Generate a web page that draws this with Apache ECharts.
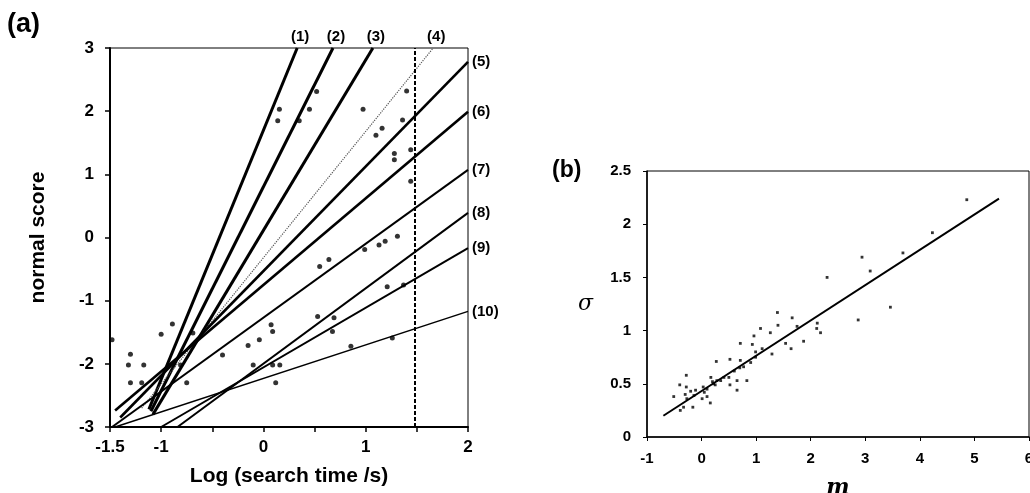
<!DOCTYPE html>
<html>
<head>
<meta charset="utf-8">
<script src="https://cdn.jsdelivr.net/npm/echarts@6/dist/echarts.min.js"></script>
<style>
html,body{margin:0;padding:0;background:#fff;}
#c{width:1030px;height:493px;}
</style>
</head>
<body>
<div id="c"></div>
<script>
// ---------- Panel (a) data ----------
const aXTickLabels = [-1.5, -1, 0, 1, 2];
const aYTickLabels = [-3, -2, -1, 0, 1, 2, 3];
const lineNames = ['(1)', '(2)', '(3)', '(4)', '(5)', '(6)', '(7)', '(8)', '(9)', '(10)'];
const lineStart = [[-1.12, -2.72], [-1.10, -2.75], [-1.08, -2.80], [-1.19, -2.70], [-1.40, -2.85],
                   [-1.45, -2.74], [-1.48, -3.00], [-0.84, -3.00], [-1.00, -3.00], [-1.45, -3.00]];
const lineEnd = [[0.33, 3.00], [0.68, 3.00], [1.07, 3.00], [1.66, 3.00], [2.00, 2.78],
                 [2.00, 1.99], [2.00, 1.07], [2.00, 0.39], [2.00, -0.17], [2.00, -1.17]];
const cutoffX = 1.48;
const aPoints = [
  [-1.48, -1.62], [-1.30, -1.85], [-1.32, -2.02], [-1.17, -2.02], [-1.30, -2.30], [-1.19, -2.30],
  [-1.00, -1.53], [-0.89, -1.37], [-0.75, -2.30], [-0.81, -2.02], [-0.69, -1.51], [-0.40, -1.86],
  [-0.15, -1.71], [-0.04, -1.62], [-0.10, -2.02], [0.09, -2.02], [0.16, -2.02], [0.12, -2.30],
  [0.075, -1.38], [0.09, -1.49], [0.156, 2.03], [0.14, 1.85], [0.52, 2.31], [0.45, 2.03],
  [0.35, 1.85], [0.974, 2.03], [1.40, 2.32], [1.36, 1.86], [1.28, 1.33], [1.28, 1.23],
  [1.10, 1.62], [1.16, 1.73], [1.44, 1.39], [1.44, 0.89], [1.31, 0.02], [1.19, -0.06],
  [1.13, -0.12], [0.99, -0.19], [0.64, -0.35], [0.55, -0.46], [1.37, -0.75], [1.21, -0.78],
  [0.675, -1.49], [0.69, -1.27], [0.53, -1.25], [0.855, -1.72], [1.26, -1.59]
];

// ---------- Panel (b) data ----------
const bXTickLabels = [-1, 0, 1, 2, 3, 4, 5, 6];
const bYTickLabels = [0, 0.5, 1, 1.5, 2, 2.5];
const bPoints = [
  [4.86, 2.23], [4.23, 1.92], [3.69, 1.73], [2.94, 1.69], [3.09, 1.56], [2.30, 1.50],
  [3.46, 1.22], [2.87, 1.10], [1.39, 1.17], [1.40, 1.05], [1.66, 1.12], [1.75, 1.04],
  [2.12, 1.07], [2.11, 1.02], [2.18, 0.98], [1.87, 0.90], [1.54, 0.88], [1.64, 0.83],
  [1.29, 0.78], [1.08, 1.02], [0.96, 0.95], [1.26, 0.98], [0.93, 0.87], [0.71, 0.88],
  [0.99, 0.80], [1.11, 0.83], [0.27, 0.71], [0.52, 0.73], [0.71, 0.72], [0.83, 0.53],
  [0.65, 0.53], [0.65, 0.44], [0.52, 0.49], [-0.28, 0.58], [-0.40, 0.49], [-0.51, 0.38],
  [-0.28, 0.47], [-0.39, 0.25], [-0.33, 0.28], [-0.16, 0.28], [-0.11, 0.44], [0.01, 0.36],
  [0.10, 0.38], [0.16, 0.32], [0.17, 0.56], [0.03, 0.47], [0.28, 0.53], [0.41, 0.56],
  [-0.27, 0.36], [-0.14, 0.39], [0.10, 0.45], [0.22, 0.50], [0.35, 0.53], [0.50, 0.56],
  [0.77, 0.66], [0.90, 0.70], [0.99, 0.75], [0.20, 0.52], [0.25, 0.49], [0.05, 0.42],
  [-0.30, 0.40], [-0.20, 0.43], [0.60, 0.62], [0.70, 0.65]
];
const bFitStart = [-0.70, 0.20];
const bFitEnd = [5.45, 2.24];

// ---------- chart ----------
const FONT = 'Liberation Sans, Arial, sans-serif';
const SERIF = 'DejaVu Serif, Liberation Serif, serif';
const chart = echarts.init(document.getElementById('c'), null, {renderer: 'canvas'});

const lineWidths = [3, 3, 3, 1.2, 2.6, 2.6, 2, 2, 2, 1.5];
const lineSeries = lineNames.map((nm, i) => {
  const top = i < 4;
  return {
    type: 'line', xAxisIndex: 0, yAxisIndex: 0, name: nm,
    data: [lineStart[i], lineEnd[i]],
    showSymbol: false, symbol: 'none', silent: true,
    lineStyle: {color: i === 3 ? '#555' : '#000', width: lineWidths[i], type: i === 3 ? 'dotted' : 'solid'},
    endLabel: {
      show: true, formatter: nm, color: '#000', fontFamily: FONT, fontWeight: 'bold', fontSize: 15,
      align: top ? 'center' : 'left', verticalAlign: top ? 'bottom' : 'middle',
      offset: top ? [3, -4] : [0, 0], distance: top ? 0 : 4
    },
    z: 3
  };
});

const option = {
  animation: false,
  backgroundColor: '#fff',
  grid: [
    {left: 110, top: 48, width: 358, height: 379, show: true, borderColor: '#000', borderWidth: 1,
     outerBoundsMode: 'none', containLabel: false},
    {left: 647, top: 171, width: 382, height: 266, show: true, borderColor: '#000', borderWidth: 1,
     outerBoundsMode: 'none', containLabel: false}
  ],
  xAxis: [
    {
      gridIndex: 0, type: 'value', min: -1.5, max: 2, interval: 0.5,
      name: 'Log (search time /s)', nameLocation: 'middle', nameGap: 39,
      nameTextStyle: {color: '#000', fontFamily: FONT, fontWeight: 'bold', fontSize: 21},
      axisLine: {onZero: false, lineStyle: {color: '#000', width: 2}},
      axisTick: {show: true, inside: false, length: 5, lineStyle: {color: '#000', width: 1.5}},
      splitLine: {show: false},
      axisLabel: {
        color: '#000', fontFamily: FONT, fontWeight: 'bold', fontSize: 17, margin: 12,
        formatter: v => aXTickLabels.some(t => Math.abs(t - v) < 1e-9) ? String(v) : ''
      }
    },
    {
      gridIndex: 1, type: 'value', min: -1, max: 6, interval: 1,
      name: 'm', nameLocation: 'middle', nameGap: 40,
      nameTextStyle: {color: '#000', fontFamily: SERIF, fontStyle: 'italic', fontWeight: 'bold', fontSize: 22},
      axisLine: {onZero: false, lineStyle: {color: '#000', width: 1.5}},
      axisTick: {show: true, inside: false, length: 4, lineStyle: {color: '#000', width: 1}},
      splitLine: {show: false},
      axisLabel: {
        color: '#000', fontFamily: FONT, fontWeight: 'bold', fontSize: 15, margin: 14,
        formatter: v => bXTickLabels.some(t => Math.abs(t - v) < 1e-9) ? String(v) : ''
      }
    }
  ],
  yAxis: [
    {
      gridIndex: 0, type: 'value', min: -3, max: 3, interval: 1,
      name: 'normal score', nameLocation: 'middle', nameGap: 61, nameRotate: 90,
      nameTextStyle: {color: '#000', fontFamily: FONT, fontWeight: 'bold', fontSize: 21},
      axisLine: {onZero: false, lineStyle: {color: '#000', width: 2}},
      axisTick: {show: true, inside: false, length: 5, lineStyle: {color: '#000', width: 1.5}},
      splitLine: {show: false},
      axisLabel: {
        color: '#000', fontFamily: FONT, fontWeight: 'bold', fontSize: 17, margin: 16,
        formatter: v => aYTickLabels.some(t => Math.abs(t - v) < 1e-9) ? String(v) : ''
      }
    },
    {
      gridIndex: 1, type: 'value', min: 0, max: 2.5, interval: 0.5,
      name: 'σ', nameLocation: 'middle', nameGap: 54, nameRotate: 0,
      nameTextStyle: {color: '#000', fontFamily: SERIF, fontStyle: 'italic', fontSize: 22},
      axisLine: {onZero: false, lineStyle: {color: '#000', width: 1.5}},
      axisTick: {show: true, inside: false, length: 4, lineStyle: {color: '#000', width: 1}},
      splitLine: {show: false},
      axisLabel: {
        color: '#000', fontFamily: FONT, fontWeight: 'bold', fontSize: 15, margin: 16,
        formatter: v => bYTickLabels.some(t => Math.abs(t - v) < 1e-9) ? String(v) : ''
      }
    }
  ],
  graphic: [
    {type: 'text', left: 7, top: 11, style: {text: '(a)', fill: '#000', font: 'bold 27px ' + FONT}},
    {type: 'text', left: 552, top: 159, style: {text: '(b)', fill: '#000', font: 'bold 23px ' + FONT}}
  ],
  series: [
    ...lineSeries,
    {
      type: 'line', xAxisIndex: 0, yAxisIndex: 0, data: [], silent: true,
      markLine: {
        silent: true, symbol: 'none', label: {show: false},
        lineStyle: {color: '#000', width: 2, type: [4, 2]},
        data: [{xAxis: cutoffX}]
      }
    },
    {
      type: 'scatter', xAxisIndex: 0, yAxisIndex: 0, data: aPoints, silent: true,
      symbol: 'circle', symbolSize: 5, itemStyle: {color: '#000'}, z: 4
    },
    {
      type: 'scatter', xAxisIndex: 1, yAxisIndex: 1, data: bPoints, silent: true,
      symbol: 'rect', symbolSize: 2.8, itemStyle: {color: '#000'}, z: 4
    },
    {
      type: 'line', xAxisIndex: 1, yAxisIndex: 1, data: [bFitStart, bFitEnd], silent: true,
      showSymbol: false, symbol: 'none', lineStyle: {color: '#000', width: 2}, z: 3
    }
  ]
};
chart.setOption(option);
</script>
</body>
</html>
